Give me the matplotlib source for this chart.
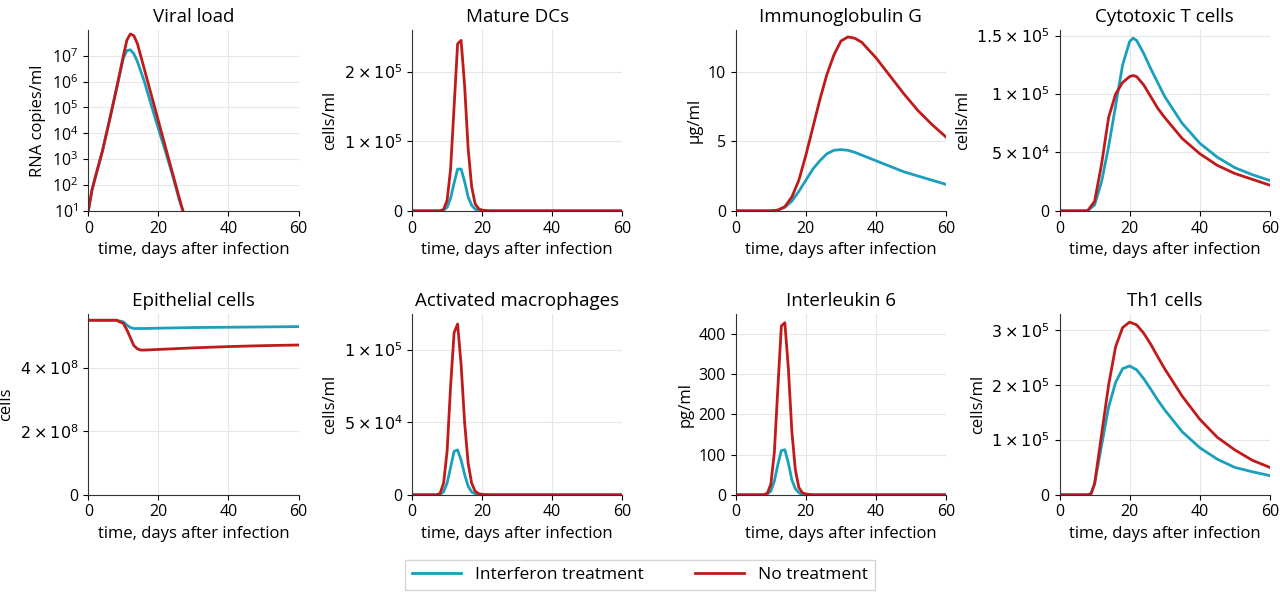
import numpy as np
import matplotlib
matplotlib.use("Agg")
import matplotlib.pyplot as plt
from matplotlib.ticker import FuncFormatter

plt.rcParams["font.family"] = ["Open Sans", "DejaVu Sans"]
plt.rcParams["font.size"] = 11.5
plt.rcParams["mathtext.fontset"] = "dejavusans"

BLUE = "#1a9fbc"
RED = "#c01a1a"

# Viral load
t_vl = [0, 1, 2, 4, 6, 8, 10, 11, 12, 13, 14, 16, 18, 20, 22, 24, 26, 27]
vl_nt = [10, 60, 200, 2e3, 3e4, 5e5, 1e7, 4e7, 7e7, 6e7, 3e7, 3e6, 3e5, 3e4, 3e3, 300, 30, 10]
vl_if = [10, 60, 200, 2e3, 3e4, 5e5, 8e6, 1.6e7, 1.7e7, 1.2e7, 6e6, 1e6, 1.2e5, 1.5e4, 2e3, 250, 25, 10]

# Mature DCs / IL6 (same time grid)
t_dc = [0, 8, 9, 10, 11, 12, 13, 14, 15, 16, 17, 18, 19, 20, 22, 25, 60]
dc_nt = [0, 0, 2e3, 1.5e4, 6e4, 1.5e5, 2.4e5, 2.45e5, 1.8e5, 9e4, 3.5e4, 1e4, 3e3, 1e3, 0, 0, 0]
dc_if = [0, 0, 1e3, 5e3, 1.8e4, 4e4, 6e4, 6e4, 4.2e4, 2e4, 8e3, 2.5e3, 700, 200, 0, 0, 0]
il6_nt = [0, 0, 4, 26, 105, 265, 420, 428, 315, 158, 62, 18, 5, 2, 0, 0, 0]
il6_if = [0, 0, 2, 9, 34, 75, 110, 112, 79, 37, 15, 5, 1, 0, 0, 0, 0]

# Immunoglobulin G
t_igg = [0, 10, 12, 14, 16, 18, 20, 22, 24, 26, 28, 30, 32, 34, 36, 40, 44, 48, 52, 56, 60]
igg_nt = [0, 0, 0.05, 0.3, 1, 2.2, 4, 6, 8, 9.8, 11.2, 12.2, 12.5, 12.4, 12.1, 11, 9.7, 8.4, 7.2, 6.2, 5.3]
igg_if = [0, 0, 0.05, 0.25, 0.7, 1.4, 2.2, 3, 3.6, 4.1, 4.35, 4.4, 4.35, 4.2, 4.0, 3.6, 3.2, 2.8, 2.5, 2.2, 1.9]

# Cytotoxic T cells
t_ct = [0, 8, 10, 12, 14, 16, 18, 20, 21, 22, 24, 26, 28, 30, 35, 40, 45, 50, 55, 60]
ct_if = [0, 0, 5e3, 2.5e4, 5.5e4, 9e4, 1.25e5, 1.45e5, 1.48e5, 1.46e5, 1.35e5, 1.22e5, 1.1e5, 9.8e4,
         7.5e4, 5.8e4, 4.6e4, 3.7e4, 3.1e4, 2.6e4]
ct_nt = [0, 0, 8e3, 4e4, 8e4, 1.0e5, 1.1e5, 1.15e5, 1.16e5, 1.15e5, 1.08e5, 9.8e4, 8.8e4, 8e4,
         6.2e4, 4.9e4, 3.9e4, 3.2e4, 2.7e4, 2.2e4]

# Epithelial cells
t_ep = [0, 8, 10, 11, 12, 13, 14, 15, 16, 20, 30, 40, 50, 60]
ep_if = [5.5e8, 5.5e8, 5.45e8, 5.35e8, 5.27e8, 5.24e8, 5.24e8, 5.24e8, 5.24e8, 5.25e8, 5.27e8, 5.28e8, 5.29e8, 5.3e8]
ep_nt = [5.5e8, 5.5e8, 5.4e8, 5.2e8, 4.95e8, 4.7e8, 4.6e8, 4.56e8, 4.56e8, 4.58e8, 4.63e8, 4.67e8, 4.7e8, 4.72e8]

# Activated macrophages
t_mac = [0, 7, 8, 9, 10, 11, 12, 13, 14, 15, 16, 17, 18, 19, 20, 22, 60]
mac_nt = [0, 0, 1e3, 8e3, 3e4, 7.5e4, 1.12e5, 1.18e5, 9e4, 5e4, 2.2e4, 8e3, 2.5e3, 800, 200, 0, 0]
mac_if = [0, 0, 300, 2e3, 8e3, 1.9e4, 3e4, 3.1e4, 2.4e4, 1.4e4, 6e3, 2e3, 700, 200, 50, 0, 0]

# Th1 cells
t_th = [0, 8, 9, 10, 12, 14, 16, 18, 20, 22, 24, 26, 28, 30, 35, 40, 45, 50, 55, 60]
th_nt = [0, 0, 2e3, 2e4, 1.1e5, 2e5, 2.7e5, 3.05e5, 3.15e5, 3.1e5, 2.95e5, 2.75e5, 2.52e5, 2.3e5,
         1.8e5, 1.38e5, 1.05e5, 8.2e4, 6.3e4, 5e4]
th_if = [0, 0, 2e3, 2e4, 9e4, 1.6e5, 2.05e5, 2.3e5, 2.35e5, 2.28e5, 2.12e5, 1.93e5, 1.73e5, 1.55e5,
         1.15e5, 8.6e4, 6.5e4, 5e4, 4.2e4, 3.5e4]


def sci(x, pos):
    if x == 0:
        return "0"
    e = int(np.floor(np.log10(abs(x)) + 1e-9))
    m = x / 10 ** e
    ms = ("%g" % round(m, 2))
    return r"$%s\times10^{%d}$" % (ms, e)


panels = [
    ("Viral load", "RNA copies/ml", t_vl, vl_if, vl_nt, None, None),
    ("Mature DCs", "cells/ml", t_dc, dc_if, dc_nt, 2.6e5, [0, 1e5, 2e5]),
    ("Immunoglobulin G", "µg/ml", t_igg, igg_if, igg_nt, 13, [0, 5, 10]),
    ("Cytotoxic T cells", "cells/ml", t_ct, ct_if, ct_nt, 1.55e5, [0, 5e4, 1e5, 1.5e5]),
    ("Epithelial cells", "cells", t_ep, ep_if, ep_nt, 5.7e8, [0, 2e8, 4e8]),
    ("Activated macrophages", "cells/ml", t_mac, mac_if, mac_nt, 1.25e5, [0, 5e4, 1e5]),
    ("Interleukin 6", "pg/ml", t_dc, il6_if, il6_nt, 450, [0, 100, 200, 300, 400]),
    ("Th1 cells", "cells/ml", t_th, th_if, th_nt, 3.3e5, [0, 1e5, 2e5, 3e5]),
]

fig, axes = plt.subplots(2, 4, figsize=(12.8, 5.99), dpi=100)
fig.subplots_adjust(left=0.069, right=0.992, top=0.95, bottom=0.174, wspace=0.54, hspace=0.57)

for ax, (title, ylab, t, yif, ynt, ymax, yt) in zip(axes.flat, panels):
    l1, = ax.plot(t, yif, color=BLUE, lw=2, label="Interferon treatment")
    l2, = ax.plot(t, ynt, color=RED, lw=2, label="No treatment")
    ax.set_title(title, fontsize=13.5)
    ax.set_ylabel(ylab, fontsize=12)
    ax.set_xlabel("time, days after infection", fontsize=12)
    ax.set_xlim(0, 60)
    ax.set_xticks([0, 20, 40, 60])
    if title == "Viral load":
        ax.set_yscale("log")
        ax.set_ylim(10, 1e8)
        ax.set_yticks([10 ** k for k in range(1, 8)])
        ax.minorticks_off()
    else:
        ax.set_ylim(0, ymax)
        ax.set_yticks(yt)
        if ymax > 1000:
            ax.yaxis.set_major_formatter(FuncFormatter(sci))
    ax.grid(True, color="#e6e6e6", lw=0.8)
    ax.set_axisbelow(True)
    for s in ["top", "right"]:
        ax.spines[s].set_visible(False)
    for s in ["left", "bottom"]:
        ax.spines[s].set_color("#333333")

fig.legend([l1, l2], ["Interferon treatment", "No treatment"], loc="lower center",
           ncol=2, fontsize=12.5, bbox_to_anchor=(0.5, 0.0), frameon=True,
           fancybox=False, edgecolor="#cccccc", handlelength=2.8, columnspacing=3)
fig.savefig("out.png", dpi=100)
